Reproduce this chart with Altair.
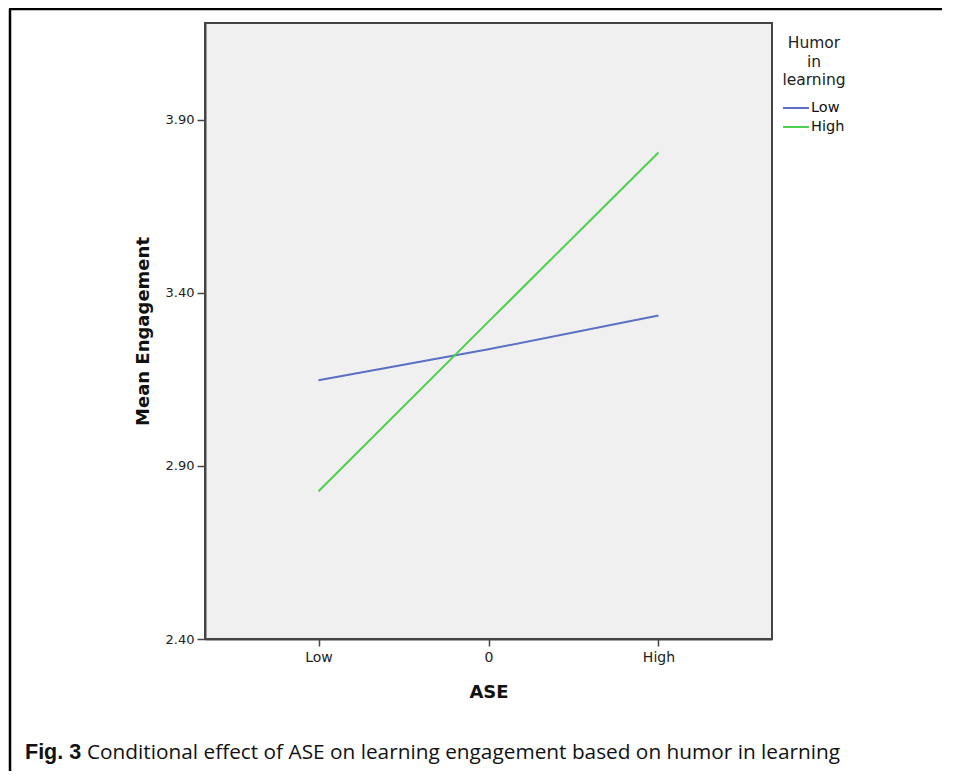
import altair as alt
import pandas as pd

# ---- data ----
ase_levels = ["Low", "0", "High"]
humor_groups = ["Low", "High"]
engagement_low_humor = [3.148, 3.237, 3.335]
engagement_high_humor = [2.827, 3.317, 3.806]
series_colors = ["#5b70c4", "#4fcf4f"]
y_ticks = [2.40, 2.90, 3.40, 3.90]
legend_title = ["Humor", "in", "learning"]
caption_bold = "Fig. 3"
caption_text = "Conditional effect of ASE on learning engagement based on humor in learning"

rows = []
for lvl, v in zip(ase_levels, engagement_low_humor):
    rows.append({"ASE": lvl, "Humor": "Low", "Engagement": v})
for lvl, v in zip(ase_levels, engagement_high_humor):
    rows.append({"ASE": lvl, "Humor": "High", "Engagement": v})
df = pd.DataFrame(rows)

W, H = 567, 616
FONT = "DejaVu Sans"

lines = alt.Chart(df).mark_line(strokeWidth=2, clip=False).encode(
    x=alt.X("ASE:N", sort=ase_levels,
            scale=alt.Scale(type="point", padding=0.668),
            axis=alt.Axis(title="ASE", labelAngle=0, tickSize=7, labelPadding=4,
                          labelFontSize=14, labelFont=FONT, labelColor="#222",
                          titleFont=FONT, titleFontSize=18, titleFontWeight="bold",
                          titleColor="#111", titleY=53, titleBaseline="middle",
                          domainColor="#444", domainWidth=2, tickColor="#444",
                          tickWidth=1.5, grid=False)),
    y=alt.Y("Engagement:Q",
            scale=alt.Scale(domain=[2.40, 4.18], nice=False, zero=False),
            axis=alt.Axis(title="Mean Engagement", values=y_ticks, format=".2f",
                          tickSize=8, labelPadding=3, labelFontSize=13,
                          labelFont=FONT, labelColor="#222",
                          titleFont=FONT, titleFontSize=18, titleFontWeight="bold",
                          titleColor="#111", titleX=-62, titleBaseline="middle",
                          domainColor="#444", domainWidth=2, tickColor="#444",
                          tickWidth=1.5, grid=False)),
    color=alt.Color("Humor:N", sort=humor_groups,
                    scale=alt.Scale(domain=humor_groups, range=series_colors),
                    legend=None),
    detail="Humor:N",
)

one = alt.Data(values=[{}])
layers = [lines]

# manual legend (title + entries)
for i, t in enumerate(legend_title):
    layers.append(alt.Chart(one).mark_text(
        text=t, font=FONT, fontSize=15.5, color="#222", align="center",
        baseline="middle").encode(x=alt.value(609), y=alt.value(20 + 18.5 * i)))
for i, (g, c) in enumerate(zip(humor_groups, series_colors)):
    yy = 85 + 19 * i
    layers.append(alt.Chart(one).mark_rule(color=c, strokeWidth=2).encode(
        x=alt.value(578), x2=alt.value(604), y=alt.value(yy)))
    layers.append(alt.Chart(one).mark_text(
        text=g, font=FONT, fontSize=14.5, color="#111", align="left",
        baseline="middle").encode(x=alt.value(606), y=alt.value(yy)))

# outer figure frame (left and top edges)
layers.append(alt.Chart(one).mark_rule(color="#000", strokeWidth=2.5).encode(
    x=alt.value(-195), y=alt.value(-14), y2=alt.value(800)))
layers.append(alt.Chart(one).mark_rule(color="#000", strokeWidth=2.5).encode(
    x=alt.value(-196), x2=alt.value(800), y=alt.value(-14)))

# caption
layers.append(alt.Chart(one).mark_text(
    text=caption_bold, font="Liberation Sans", fontSize=21.5, fontWeight="bold",
    color="#111", align="left", baseline="alphabetic").encode(
        x=alt.value(-180), y=alt.value(736)))
layers.append(alt.Chart(one).mark_text(
    text=caption_text, font="Open Sans", fontSize=20.8, color="#111",
    align="left", baseline="alphabetic").encode(
        x=alt.value(-118), y=alt.value(736)))

chart = alt.layer(*layers).properties(
    width=W, height=H,
    autosize=alt.AutoSizeParams(type="none"),
    padding={"left": 197, "top": 15, "right": 170, "bottom": 132},
    background="white",
).configure_view(
    fill="#f0f0f0", stroke="#444", strokeWidth=2
)

chart.save("out.html", embed_options={"renderer": "svg", "actions": False})
